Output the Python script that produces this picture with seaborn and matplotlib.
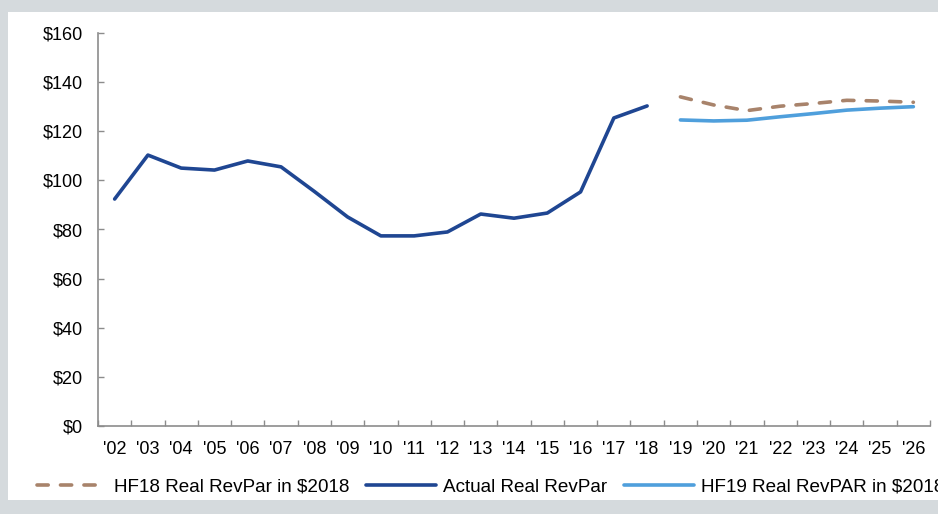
import matplotlib
matplotlib.use("Agg")
import matplotlib.pyplot as plt
from matplotlib.patches import Rectangle
from matplotlib.ticker import FixedLocator, FuncFormatter
import seaborn as sns
import pandas as pd
import numpy as np

years = ["'02", "'03", "'04", "'05", "'06", "'07", "'08", "'09", "'10", "'11", "'12", "'13",
         "'14", "'15", "'16", "'17", "'18", "'19", "'20", "'21", "'22", "'23", "'24", "'25", "'26"]
actual_years = years[:17]
actual = [92.4, 110.3, 105.0, 104.2, 107.9, 105.5, 95.5, 85.1, 77.4, 77.4, 79.0, 86.3,
          84.6, 86.7, 95.3, 125.4, 130.3]
fc_years = years[17:]
hf18 = [134.0, 130.7, 128.4, 130.2, 131.3, 132.6, 132.3, 131.8]
hf19 = [124.6, 124.2, 124.5, 125.9, 127.2, 128.6, 129.4, 130.0]

pos = {y: i for i, y in enumerate(years)}
df = pd.concat([
    pd.DataFrame({"x": [pos[y] for y in fc_years], "v": hf18, "s": "HF18 Real RevPar in $2018"}),
    pd.DataFrame({"x": [pos[y] for y in actual_years], "v": actual, "s": "Actual Real RevPar"}),
    pd.DataFrame({"x": [pos[y] for y in fc_years], "v": hf19, "s": "HF19 Real RevPAR in $2018"}),
])

sns.set_style("white")
plt.rcParams["font.family"] = ["Liberation Sans", "DejaVu Sans"]
plt.rcParams["text.color"] = "black"

fig = plt.figure(figsize=(9.38, 5.14), dpi=100)
fig.patch.set_facecolor("#d5dadd")
fig.patches.append(Rectangle((8 / 938, 14 / 514), 1.0, 1 - 14 / 514 - 12 / 514,
                             transform=fig.transFigure, facecolor="white",
                             edgecolor="none", zorder=-10))
ax = fig.add_axes([98 / 938, 1 - 426 / 514, (930 - 98) / 938, (426 - 33) / 514])
ax.set_facecolor("none")

palette = {"HF18 Real RevPar in $2018": "#a8836b",
           "Actual Real RevPar": "#1f4692",
           "HF19 Real RevPAR in $2018": "#4f9fdc"}
dashes = {"HF18 Real RevPar in $2018": (3.1, 3.4),
          "Actual Real RevPar": "",
          "HF19 Real RevPAR in $2018": ""}
sns.lineplot(data=df, x="x", y="v", hue="s", style="s", palette=palette, dashes=dashes,
             linewidth=2.6, ax=ax, legend=True)
for ln in ax.get_lines():
    ln.set_dash_capstyle("round")
    ln.set_solid_capstyle("round")

ax.set_xlim(-0.5, 24.5)
ax.set_ylim(0, 160)
ax.set_yticks(np.arange(0, 161, 20))
ax.yaxis.set_major_formatter(FuncFormatter(lambda v, p: f"${v:.0f}"))
ax.set_xticks(range(len(years)))
ax.set_xticklabels(years)
ax.xaxis.set_minor_locator(FixedLocator(np.arange(-0.5, 25, 1)))
ax.tick_params(axis="x", which="major", bottom=True, length=0, pad=11, labelsize=13,
               labelcolor="black")
ax.tick_params(axis="x", which="minor", bottom=True, length=4, direction="in",
               color="#8c8c8c", width=1)
ax.tick_params(axis="y", which="major", left=True, length=4, direction="in", color="#8c8c8c",
               width=1, pad=11, labelsize=13, labelcolor="black")
ax.set_xlabel("")
ax.set_ylabel("")
for s in ["top", "right"]:
    ax.spines[s].set_visible(False)
for s in ["left", "bottom"]:
    ax.spines[s].set_color("#8c8c8c")
    ax.spines[s].set_linewidth(1.2)

handles, labels = ax.get_legend_handles_labels()
for h in handles:
    h.set_dash_capstyle("round")
    h.set_solid_capstyle("round")
ax.legend_.remove()
leg = fig.legend(handles, labels, loc="center left", bbox_to_anchor=(37 / 938, 1 - 487 / 514),
                 ncol=3, frameon=False, fontsize=13.6, handlelength=3.7, handletextpad=0.4,
                 columnspacing=0.85, borderaxespad=0, borderpad=0)
for t in leg.get_texts():
    t.set_color("black")

fig.savefig("out.png", dpi=100, facecolor=fig.get_facecolor())
